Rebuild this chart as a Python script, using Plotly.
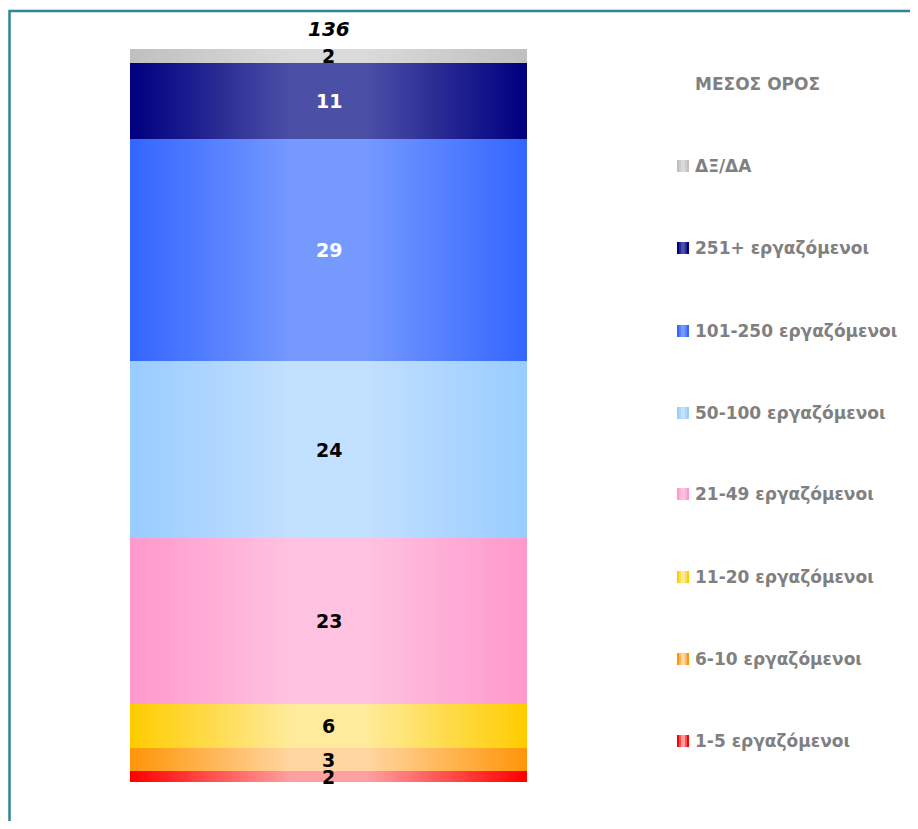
import plotly.graph_objects as go

# ---------------- data (bottom -> top) ----------------
categories = ["1-5 εργαζόμενοι", "6-10 εργαζόμενοι", "11-20 εργαζόμενοι",
              "21-49 εργαζόμενοι", "50-100 εργαζόμενοι", "101-250 εργαζόμενοι",
              "251+ εργαζόμενοι", "ΔΞ/ΔΑ"]
values = [1.5, 3.1, 6.0, 22.7, 24.2, 30.3, 10.4, 1.9]        # bar heights as drawn
value_labels = ["2", "3", "6", "23", "24", "29", "11", "2"]  # labels printed on bar
total_label = "136"
bar_name = "ΜΕΣΟΣ ΟΡΟΣ"

# ---------------- styles ----------------
edge_colors = [(255, 0, 0), (255, 150, 10), (255, 204, 0), (255, 153, 204),
               (153, 204, 255), (51, 102, 255), (0, 0, 128), (192, 192, 192)]
center_colors = [(255, 160, 160), (255, 214, 162), (255, 235, 155), (255, 194, 224),
                 (194, 224, 255), (117, 153, 255), (76, 79, 166), (218, 218, 218)]
label_colors = ["black", "black", "black", "black", "black", "white", "white", "black"]

OFF = 8  # page body margin
W, H = 918 - 2 * OFF, 829 - 2 * OFF
L, R, T, B = 130 - OFF, 527 - OFF, 49 - OFF, 782 - OFF


def xp(px):
    px -= OFF
    return (px - L) / (R - L)


def yp(py):
    py -= OFF
    return (B - py) / (B - T)


def mix(c1, c2, t):
    return "rgb(%d,%d,%d)" % tuple(round(a + (b - a) * t) for a, b in zip(c1, c2))


bases = []
acc = 0.0
for v in values:
    bases.append(acc)
    acc += v
total = acc

fig = go.Figure()
N = 40
for k in range(N):
    t = k / (N - 1)
    width = 1.0 - t * 0.8
    fig.add_trace(go.Bar(
        x=[0] * len(values), y=values, base=bases, width=width,
        marker=dict(color=[mix(e, c, t) for e, c in zip(edge_colors, center_colors)],
                    line=dict(width=0)),
        showlegend=False, hoverinfo="skip",
    ))

annotations = []
for v, b, lab, col in zip(values, bases, value_labels, label_colors):
    annotations.append(dict(x=0, y=b + v / 2, xref="x", yref="y", text="<b>%s</b>" % lab,
                            showarrow=False, xanchor="center", yanchor="middle",
                            font=dict(family="DejaVu Sans", size=19, color=col)))
annotations.append(dict(x=0, y=yp(28.5), xref="x", yref="paper", text="<b><i>%s</i></b>" % total_label,
                        showarrow=False, xanchor="center", yanchor="middle",
                        font=dict(family="DejaVu Sans", size=20, color="black")))

shapes = []
# legend title
annotations.append(dict(x=xp(693), y=yp(84), xref="paper", yref="paper", text="<b>%s</b>" % bar_name,
                        showarrow=False, xanchor="left", yanchor="middle",
                        font=dict(family="DejaVu Sans", size=17, color="#808080")))
legend_y = [741, 659, 577, 494, 413, 331, 248, 166]
for cat, ly, e, c in zip(categories, legend_y, edge_colors, center_colors):
    annotations.append(dict(x=xp(693), y=yp(ly), xref="paper", yref="paper", text="<b>%s</b>" % cat,
                            showarrow=False, xanchor="left", yanchor="middle",
                            font=dict(family="DejaVu Sans", size=17, color="#808080")))
    shapes.append(dict(type="rect", xref="paper", yref="paper",
                       x0=xp(677), x1=xp(689), y0=yp(ly + 6), y1=yp(ly - 6),
                       fillcolor=mix(e, c, 0.0), line=dict(width=0), layer="above"))
    shapes.append(dict(type="rect", xref="paper", yref="paper",
                       x0=xp(679), x1=xp(687), y0=yp(ly + 6), y1=yp(ly - 6),
                       fillcolor=mix(e, c, 0.5), line=dict(width=0), layer="above"))
    shapes.append(dict(type="rect", xref="paper", yref="paper",
                       x0=xp(681), x1=xp(685), y0=yp(ly + 6), y1=yp(ly - 6),
                       fillcolor=mix(e, c, 1.0), line=dict(width=0), layer="above"))

# chart border
shapes.append(dict(type="rect", xref="paper", yref="paper",
                   x0=xp(9.5), x1=xp(990), y0=yp(11), y1=yp(900),
                   line=dict(color="#31849B", width=2.5), fillcolor="rgba(0,0,0,0)"))

fig.update_layout(
    width=W, height=H,
    margin=dict(l=L, r=W - R, t=T, b=H - B, pad=0),
    barmode="overlay", bargap=0,
    plot_bgcolor="white", paper_bgcolor="white",
    xaxis=dict(range=[-0.5, 0.5], visible=False, fixedrange=True),
    yaxis=dict(range=[0, total], visible=False, fixedrange=True),
    annotations=annotations, shapes=shapes,
    showlegend=False,
)

fig.write_html("out.html")
